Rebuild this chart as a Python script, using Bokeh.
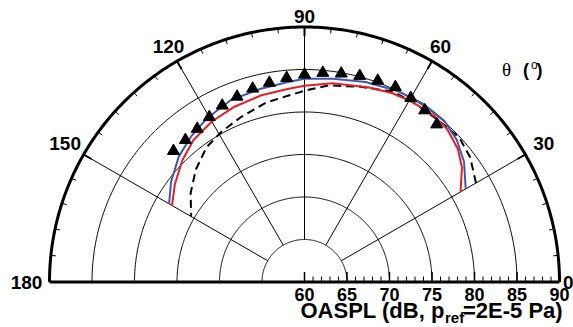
import numpy as np
from bokeh.plotting import figure
from bokeh.models import Range1d
from bokeh.core.properties import value
from bokeh.embed import file_html
from bokeh.resources import INLINE

# ---------------- data ----------------
r_min, r_max = 60, 90
ring_levels = [65, 70, 75, 80, 85]
radial_ticks = [60, 65, 70, 75, 80, 85, 90]
angle_ticks = [0, 30, 60, 90, 120, 150, 180]

red_theta = [30, 36, 41, 47, 52, 59, 65, 72, 82, 90, 95, 103, 112, 120, 128, 135, 143, 150]
red_db = [81.2, 82.9, 83.9, 84.6, 84.8, 84.7, 84.5, 84.1, 83.6, 83.1, 82.8, 82.55, 82.2, 81.8, 81.2, 80.3, 79.1, 78.0]

blue_theta = [30, 37, 43, 49, 56, 64, 73, 82, 90, 95, 103, 112, 121, 128, 135, 143, 150]
blue_db = [81.9, 83.5, 84.5, 85.1, 85.2, 85.0, 84.6, 84.15, 83.9, 83.6, 83.3, 83.1, 82.4, 81.7, 80.9, 79.65, 78.4]

dash_theta = [30, 37, 43, 50, 58, 65, 74, 83, 90, 102, 111, 119, 126, 134, 142, 150]
dash_db = [83.3, 84.4, 84.9, 84.7, 84.7, 84.7, 83.9, 83.3, 82.5, 81.6, 80.8, 80.2, 79.6, 78.4, 77.0, 75.4]

exp_theta = [50, 55, 60, 65, 70, 75, 80, 85, 90, 95, 100, 105, 110, 115, 120, 125, 130, 135]
exp_db = [84.2, 84.65, 85.0, 85.3, 85.2, 85.1, 84.9, 84.7, 84.4, 84.1, 83.8, 83.55, 83.2, 82.9, 82.4, 82.0, 81.8, 81.8]

# ---------------- layout ----------------
W, H = 573, 327
PX = 8.5             # pixels per dB
CX, CY = 304, 281.5  # centre in canvas pixels

def pxx(px):  # canvas px -> data x
    return (px - CX) / PX

def pyy(py):  # canvas px -> data y
    return (CY - py) / PX

def polar(theta_deg, db):
    t = np.radians(np.asarray(theta_deg, dtype=float))
    r = np.asarray(db, dtype=float) - r_min
    return r * np.cos(t), r * np.sin(t)

p = figure(width=W, height=H, output_backend="svg", toolbar_location=None,
           x_range=Range1d(pxx(0), pxx(W)), y_range=Range1d(pyy(H), pyy(0)),
           x_axis_location=None, y_axis_location=None, min_border=0,
           background_fill_color="white", border_fill_color="white")
p.outline_line_color = None
p.xgrid.visible = False
p.ygrid.visible = False

full = np.linspace(0, 180, 361)

# rings
for lev in ring_levels:
    x, y = polar(full, [lev] * len(full))
    p.line(x, y, line_color="black", line_width=1)
# spokes
for a in angle_ticks[1:-1]:
    x, y = polar([a, a], [65, r_max])
    p.line(x, y, line_color="black", line_width=1)
# outer arc
x, y = polar(full, [r_max] * len(full))
p.line(x, y, line_color="black", line_width=3)
# baseline
x, y = polar([180, 0], [r_max, r_max])
p.line(x, y, line_color="black", line_width=3)

# outer arc ticks (inward)
minor_a = [a for a in range(6, 180, 6) if a % 30 != 0]
x0, y0 = polar(minor_a, [r_max] * len(minor_a))
x1, y1 = polar(minor_a, [r_max - 5 / PX] * len(minor_a))
p.segment(x0, y0, x1, y1, line_color="black", line_width=1)
major_a = angle_ticks[1:-1]
x0, y0 = polar(major_a, [r_max] * len(major_a))
x1, y1 = polar(major_a, [r_max - 9 / PX] * len(major_a))
p.segment(x0, y0, x1, y1, line_color="black", line_width=2)

# baseline ticks (upward)
minor_r = [v for v in range(r_min, r_max + 1) if v % 5 != 0]
xs = [v - r_min for v in minor_r]
p.segment(xs, [0] * len(xs), xs, [5.5 / PX] * len(xs), line_color="black", line_width=1)
xs = [v - r_min for v in radial_ticks]
p.segment(xs, [0] * len(xs), xs, [10 / PX] * len(xs), line_color="black", line_width=1.5)

# data curves
x, y = polar(dash_theta, dash_db)
p.line(x, y, line_color="black", line_width=2, line_dash="8 5")
x, y = polar(red_theta, red_db)
p.line(x, y, line_color="#e3202a", line_width=2)
x, y = polar(blue_theta, blue_db)
p.line(x, y, line_color="#4058a8", line_width=2)
x, y = polar(exp_theta, exp_db)
p.scatter(x, y, marker="triangle", size=12, fill_color="black", line_color="black")

FONT = value("Liberation Sans")

# radial tick labels
lx = [v - r_min for v in radial_ticks]
p.text(lx, [pyy(293.5)] * len(lx), text=[str(v) for v in radial_ticks],
       text_font=FONT, text_font_style="bold", text_font_size="18px",
       text_align="center", text_baseline="middle", text_color="black")

# angle labels
ax, ay, at, aal = [], [], [], []
for a in angle_ticks:
    t = np.radians(a)
    rp = 266 + 12 * abs(np.cos(t))
    xx = rp * np.cos(t) / PX
    yy = rp * np.sin(t) / PX
    if a == 0:
        ax.append(pxx(W)); ay.append(yy); aal.append("right")
    else:
        ax.append(xx); ay.append(yy); aal.append("center")
    at.append(str(a))
for xx, yy, tt, al in zip(ax, ay, at, aal):
    p.text([xx], [yy], text=[tt], text_font=FONT, text_font_style="bold",
           text_font_size="19px", text_align=al, text_baseline="middle", text_color="black")

# axis title with subscript
p.text([pxx(300)], [pyy(310)], text=["OASPL (dB, p"], text_font=FONT, text_font_style="bold",
       text_font_size="22px", text_align="left", text_baseline="middle", text_color="black")
p.text([pxx(444.5)], [pyy(317)], text=["ref"], text_font=FONT, text_font_style="bold",
       text_font_size="15px", text_align="left", text_baseline="middle", text_color="black")
p.text([pxx(462.5)], [pyy(310)], text=["=2E-5 Pa)"], text_font=FONT, text_font_style="bold",
       text_font_size="22px", text_align="left", text_baseline="middle", text_color="black")

# theta label
p.text([pxx(501.5)], [pyy(69)], text=["\u03b8"], text_font=value("Liberation Serif"),
       text_font_size="19px", text_align="left", text_baseline="middle", text_color="black")
p.text([pxx(522.5)], [pyy(69)], text=["("], text_font=FONT, text_font_style="bold",
       text_font_size="18px", text_align="left", text_baseline="middle", text_color="black")
p.text([pxx(530.5)], [pyy(64)], text=["o"], text_font=FONT,
       text_font_size="12px", text_align="left", text_baseline="middle", text_color="black")
p.text([pxx(536)], [pyy(69)], text=[")"], text_font=FONT, text_font_style="bold",
       text_font_size="18px", text_align="left", text_baseline="middle", text_color="black")

open("out.html", "w").write(file_html(p, INLINE))
